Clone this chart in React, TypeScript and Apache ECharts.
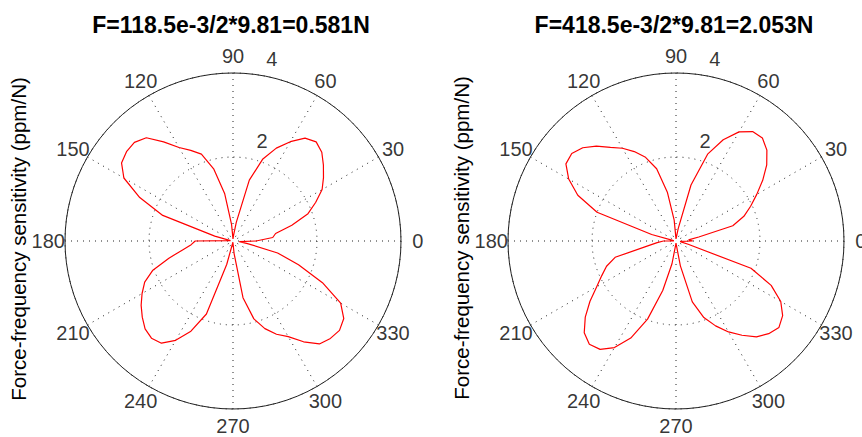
import React, { useEffect, useRef } from "react";
import * as echarts from "echarts";

// Sample angles (degrees) shared by both measurements
const ANGLES = [
  0, 5, 10, 15, 20, 25, 30, 35, 40, 45, 50, 55, 60, 65, 70, 75, 80, 85,
  90, 95, 100, 105, 110, 115, 120, 125, 130, 135, 140, 145, 150, 155, 160, 165, 170, 175,
  180, 185, 190, 195, 200, 205, 210, 215, 220, 225, 230, 235, 240, 245, 250, 255, 260, 265,
  270, 275, 280, 285, 290, 295, 300, 305, 310, 315, 320, 325, 330, 335, 340, 345, 350, 355,
  360,
];

// Force-frequency sensitivity (ppm/N), F = 0.581 N
const SENS_LOW = [
  0.55, 0.95, 1.03, 1.45, 1.9, 2.17, 2.45, 2.63, 2.81, 2.99, 3.08, 2.99, 2.73, 2.44, 2.08, 1.5, 0.45, 0.12,
  0.05, 0.4, 1.15, 1.78, 2.2, 2.38, 2.57, 2.88, 3.21, 3.32, 3.31, 3.24, 3.0, 2.45, 1.78, 0.45, 0.06, 0.05,
  0.9, 1.0, 1.22, 1.58, 2.03, 2.32, 2.5, 2.67, 2.82, 2.96, 3.02, 2.97, 2.73, 2.37, 1.85, 0.58, 0.06, 0.03,
  0.03, 0.3, 1.37, 1.92, 2.22, 2.45, 2.63, 2.93, 3.2, 3.28, 3.31, 3.22, 2.96, 2.35, 1.66, 1.1, 0.35, 0.15,
  0.55,
];

// Force-frequency sensitivity (ppm/N), F = 2.053 N
const SENS_HIGH = [
  0.4, 0.3, 0.55, 1.4, 1.72, 1.96, 2.22, 2.52, 2.82, 3.06, 3.2, 3.18, 3.0, 2.66, 2.2, 1.38, 0.3, 0.08,
  0.05, 0.5, 1.17, 1.78, 2.12, 2.35, 2.55, 2.72, 2.95, 3.14, 3.24, 3.2, 2.95, 2.58, 2.0, 0.6, 0.08, 0.05,
  0.3, 0.45, 0.7, 1.5, 1.76, 1.95, 2.18, 2.5, 2.82, 3.09, 3.21, 3.15, 2.93, 2.55, 1.98, 1.22, 0.55, 0.1,
  0.05, 0.1, 0.6, 1.5, 1.94, 2.23, 2.5, 2.74, 2.98, 3.12, 3.2, 3.1, 2.88, 2.5, 1.9, 0.3, 0.12, 0.1,
  0.4,
];

const ANGLE_TICKS = [0, 30, 60, 90, 120, 150, 180, 210, 240, 270, 300, 330];
const RADIUS_TICKS = [2, 4];

const TITLES = ["F=118.5e-3/2*9.81=0.581N", "F=418.5e-3/2*9.81=2.053N"];
const Y_LABEL = "Force-frequency sensitivity (ppm/N)";

// Layout
const R_MAX = 4;
const POLAR_CY = 241;
const POLAR_RADIUS = 168;
const PANELS = [
  { cx: 233, titleX: 231, yLabelX: 18.5, yLabelY: 239, series: SENS_LOW },
  { cx: 676, titleX: 674, yLabelX: 461.5, yLabelY: 238, series: SENS_HIGH },
];
const ANGLE_LABEL_R = 4.4;
const RADIUS_LABEL_R = [2.48, 4.42];
const RADIUS_LABEL_ANGLE = [73.8, 77.9];

const FONT = "'Liberation Sans', Arial, Helvetica, sans-serif";
const dotted = { color: "#222", width: 1, type: [1, 5] as number[] };

export default function App() {
  const ref = useRef<HTMLDivElement>(null);

  useEffect(() => {
    if (!ref.current) return;
    const chart = echarts.init(ref.current, undefined, { renderer: "svg" });

    const polar = PANELS.map((p) => ({ center: [p.cx, POLAR_CY], radius: POLAR_RADIUS }));

    const angleAxis = PANELS.map((_, i) => ({
      polarIndex: i,
      type: "value",
      min: 0,
      max: 360,
      interval: 30,
      startAngle: 0,
      clockwise: false,
      axisLine: { show: true, lineStyle: { color: "#222", width: 1 } },
      axisTick: { show: false },
      axisLabel: { show: false },
      splitLine: { show: true, lineStyle: dotted },
    }));

    const radiusAxis = PANELS.map((_, i) => ({
      polarIndex: i,
      type: "value",
      min: 0,
      max: R_MAX,
      interval: 2,
      axisLine: { show: false },
      axisTick: { show: false },
      axisLabel: { show: false },
      splitLine: { show: true, lineStyle: dotted },
    }));

    const labelStyle = {
      show: true,
      position: "inside",
      fontSize: 20,
      fontFamily: FONT,
      color: "#000",
    };

    const series: any[] = [];
    PANELS.forEach((p, i) => {
      series.push({
        type: "line",
        coordinateSystem: "polar",
        polarIndex: i,
        data: ANGLES.map((a, k) => [p.series[k], a]),
        showSymbol: false,
        symbol: "none",
        clip: false,
        silent: true,
        lineStyle: { color: "#ff0000", width: 1.2 },
        z: 5,
      });
      series.push({
        type: "scatter",
        coordinateSystem: "polar",
        polarIndex: i,
        data: ANGLE_TICKS.map((a) => [ANGLE_LABEL_R, a]),
        symbolSize: 1,
        clip: false,
        silent: true,
        itemStyle: { color: "rgba(0,0,0,0)" },
        label: { ...labelStyle, formatter: (d: any) => String(d.value[1]) },
      });
      series.push({
        type: "scatter",
        coordinateSystem: "polar",
        polarIndex: i,
        data: RADIUS_TICKS.map((t, k) => ({
          value: [RADIUS_LABEL_R[k], RADIUS_LABEL_ANGLE[k]],
          name: String(t),
        })),
        symbolSize: 1,
        clip: false,
        silent: true,
        itemStyle: { color: "rgba(0,0,0,0)" },
        label: { ...labelStyle, formatter: (d: any) => d.name },
      });
    });

    const graphic: any[] = [];
    PANELS.forEach((p, i) => {
      graphic.push({
        type: "text",
        x: p.titleX,
        y: 24.5,
        silent: true,
        style: {
          text: TITLES[i],
          fill: "#000",
          fontSize: 23,
          fontWeight: "bold",
          fontFamily: FONT,
          align: "center",
          verticalAlign: "middle",
          textAlign: "center",
          textVerticalAlign: "middle",
        },
      });
      graphic.push({
        type: "text",
        x: p.yLabelX,
        y: p.yLabelY,
        rotation: Math.PI / 2,
        silent: true,
        style: {
          text: Y_LABEL,
          fill: "#000",
          fontSize: 20.5,
          fontFamily: FONT,
          align: "center",
          verticalAlign: "middle",
          textAlign: "center",
          textVerticalAlign: "middle",
        },
      });
    });

    chart.setOption({
      animation: false,
      backgroundColor: "#fff",
      polar,
      angleAxis,
      radiusAxis,
      series,
      graphic,
    });

    return () => chart.dispose();
  }, []);

  return (
    <div
      ref={ref}
      style={{ position: "fixed", left: 0, top: 0, width: 862, height: 437 }}
    />
  );
}
